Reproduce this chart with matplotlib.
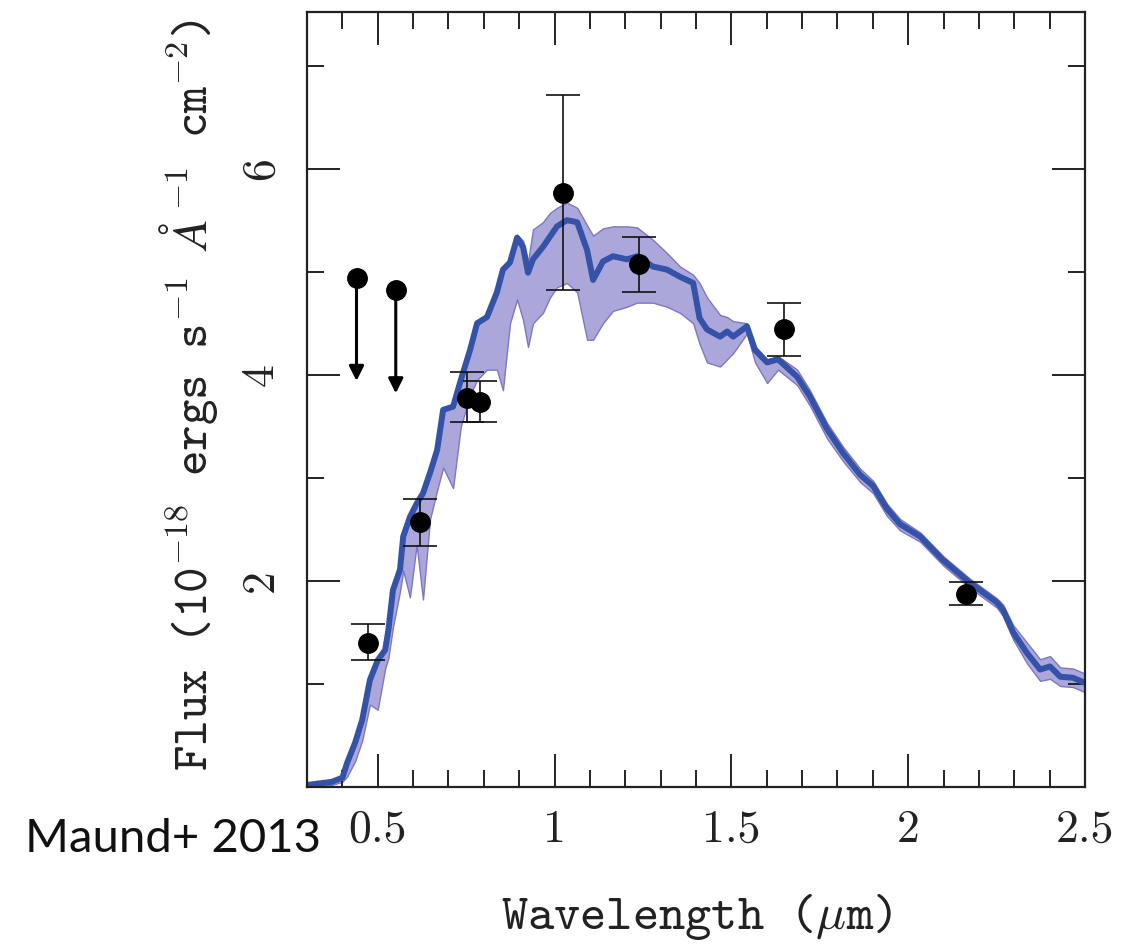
import matplotlib
matplotlib.use("Agg")
import matplotlib.pyplot as plt
import numpy as np

# ---------------- data ----------------
model_wave = [0.30, 0.37, 0.40, 0.413, 0.436, 0.456, 0.478, 0.50, 0.521, 0.530,
              0.543, 0.563, 0.572, 0.591, 0.61, 0.628, 0.648, 0.668, 0.685, 0.713,
              0.735, 0.761, 0.781, 0.809, 0.837, 0.854, 0.874, 0.894, 0.911, 0.925,
              0.939, 0.967, 0.987, 1.007, 1.035, 1.064, 1.092, 1.109, 1.137, 1.165,
              1.205, 1.233, 1.278, 1.318, 1.355, 1.392, 1.41, 1.431, 1.468, 1.488,
              1.505, 1.544, 1.567, 1.601, 1.632, 1.686, 1.722, 1.771, 1.816, 1.864,
              1.901, 1.94, 1.977, 2.034, 2.099, 2.175, 2.251, 2.268, 2.297, 2.336,
              2.373, 2.401, 2.43, 2.466, 2.50]
model_flux = [0.02, 0.05, 0.09, 0.23, 0.43, 0.65, 1.04, 1.23, 1.33, 1.52,
              1.91, 2.11, 2.43, 2.62, 2.75, 2.85, 3.05, 3.27, 3.66, 3.69,
              3.95, 4.24, 4.50, 4.56, 4.80, 5.02, 5.09, 5.33, 5.24, 4.99,
              5.12, 5.24, 5.34, 5.44, 5.50, 5.48, 5.21, 4.92, 5.10, 5.15,
              5.12, 5.15, 5.05, 5.02, 4.95, 4.89, 4.55, 4.44, 4.37, 4.42,
              4.37, 4.47, 4.24, 4.12, 4.15, 3.98, 3.79, 3.47, 3.24, 3.03,
              2.92, 2.70, 2.55, 2.43, 2.20, 1.98, 1.79, 1.72, 1.50, 1.30,
              1.14, 1.17, 1.07, 1.06, 1.01]
model_lo = [0.00, 0.02, 0.05, 0.10, 0.25, 0.45, 0.80, 0.75, 1.15, 1.25,
            1.55, 1.90, 2.10, 1.84, 2.35, 1.82, 2.60, 2.88, 3.10, 2.90,
            3.50, 3.80, 3.95, 4.05, 4.05, 3.85, 4.50, 4.73, 4.53, 4.27,
            4.50, 4.60, 4.75, 4.85, 4.89, 4.80, 4.34, 4.34, 4.50, 4.62,
            4.66, 4.70, 4.70, 4.66, 4.60, 4.50, 4.30, 4.12, 4.08, 4.15,
            4.21, 4.40, 4.12, 3.92, 4.05, 3.90, 3.70, 3.38, 3.16, 2.96,
            2.85, 2.63, 2.49, 2.38, 2.15, 1.93, 1.74, 1.66, 1.43, 1.20,
            1.03, 1.05, 0.98, 0.97, 0.92]
model_hi = [0.03, 0.06, 0.10, 0.25, 0.45, 0.67, 1.05, 1.25, 1.35, 1.53,
            1.92, 2.12, 2.44, 2.63, 2.76, 2.86, 3.06, 3.28, 3.68, 3.72,
            3.97, 4.26, 4.52, 4.58, 4.82, 5.04, 5.11, 5.36, 5.30, 5.10,
            5.41, 5.48, 5.57, 5.62, 5.67, 5.62, 5.45, 5.35, 5.42, 5.44,
            5.44, 5.43, 5.31, 5.18, 5.05, 4.97, 4.89, 4.75, 4.58, 4.56,
            4.52, 4.50, 4.28, 4.15, 4.18, 4.05, 3.85, 3.53, 3.30, 3.09,
            2.97, 2.75, 2.60, 2.47, 2.24, 2.02, 1.83, 1.77, 1.57, 1.40,
            1.24, 1.27, 1.16, 1.15, 1.10]

phot_wave = [0.473, 0.620, 0.752, 0.789, 1.023, 1.240, 1.649, 2.164]
phot_flux = [1.40, 2.57, 3.77, 3.74, 5.76, 5.07, 4.44, 1.87]
phot_err_lo = [0.17, 0.23, 0.23, 0.20, 0.94, 0.27, 0.26, 0.10]
phot_err_hi = [0.18, 0.22, 0.26, 0.20, 0.95, 0.27, 0.26, 0.12]

limit_wave = [0.440, 0.551]
limit_flux = [4.94, 4.82]
limit_len = [1.0, 1.0]

x_ticks = [0.5, 1.0, 1.5, 2.0, 2.5]
x_ticklabels = ["0.5", "1", "1.5", "2", "2.5"]
y_ticks = [2, 4, 6]
y_ticklabels = ["2", "4", "6"]

# ---------------- style ----------------
plt.rcParams['mathtext.fontset'] = 'cm'
plt.rcParams['axes.unicode_minus'] = False
text_col = '#222222'

fig = plt.figure(figsize=(11.32, 9.44), dpi=100)
ax = fig.add_axes([0.2712, 0.1663, 0.6873, 0.8210])

line_col = '#3352a8'
band_col = '#aca7da'
band_edge = '#7d76c6'

ax.fill_between(model_wave, model_lo, model_hi, facecolor=band_col,
                edgecolor=band_edge, linewidth=1.0, zorder=1)
ax.plot(model_wave, model_flux, color=line_col, lw=4.3, zorder=2,
        solid_joinstyle='round', solid_capstyle='round')

yerr = np.array([phot_err_lo, phot_err_hi])
ax.errorbar(phot_wave, phot_flux, yerr=yerr, fmt='o', color='black',
            ms=14, ecolor='#111111', elinewidth=1.2, capsize=12.5,
            capthick=1.2, zorder=4)

ax.plot(limit_wave, limit_flux, 'o', color='black', ms=14, zorder=4)
for xw, yf, L in zip(limit_wave, limit_flux, limit_len):
    ax.annotate('', xy=(xw, yf - L), xytext=(xw, yf),
                arrowprops=dict(arrowstyle='-|>', lw=2.2, color='black',
                                mutation_scale=22, shrinkA=0, shrinkB=0),
                zorder=3)

ax.set_xlim(0.3, 2.5)
ax.set_ylim(0, 7.52)
ax.set_xticks(x_ticks)
ax.set_xticklabels(x_ticklabels)
ax.set_yticks(y_ticks)
ax.set_yticklabels(y_ticklabels)
ax.set_xticks(np.arange(0.3, 2.5001, 0.1), minor=True)
ax.set_yticks([1, 3, 5, 7], minor=True)

for s in ax.spines.values():
    s.set_linewidth(1.6)
    s.set_color('#222222')

ax.tick_params(which='both', direction='in', top=True, right=True,
               color='#222222', width=1.4, labelcolor=text_col)
ax.tick_params(which='major', length=24)
ax.tick_params(which='minor', length=12)
ax.tick_params(axis='x', which='major', pad=16, labelsize=33)
ax.tick_params(axis='y', which='major', pad=18, labelsize=33)
for lab in ax.get_xticklabels() + ax.get_yticklabels():
    lab.set_family('cmr10')
for lab in ax.get_yticklabels():
    lab.set_rotation(90)
    lab.set_va('center')

ax.set_xlabel(r'Wavelength ($\mu$m)', family='cmtt10', fontsize=36,
              color=text_col)
ax.xaxis.set_label_coords(0.5, -0.135)
ax.set_ylabel(r'Flux (10$^{-18}$ ergs s$^{-1}$ $\AA^{-1}$ cm$^{-2}$)',
              family='cmtt10', fontsize=35, color=text_col)
ax.yaxis.set_label_coords(-0.112, 0.506)

fig.text(0.022, 0.0975, 'Maund+ 2013', family='Lato', weight='normal',
         fontsize=34, va='baseline', ha='left', color='#111111')

fig.savefig('out.png', dpi=100)
